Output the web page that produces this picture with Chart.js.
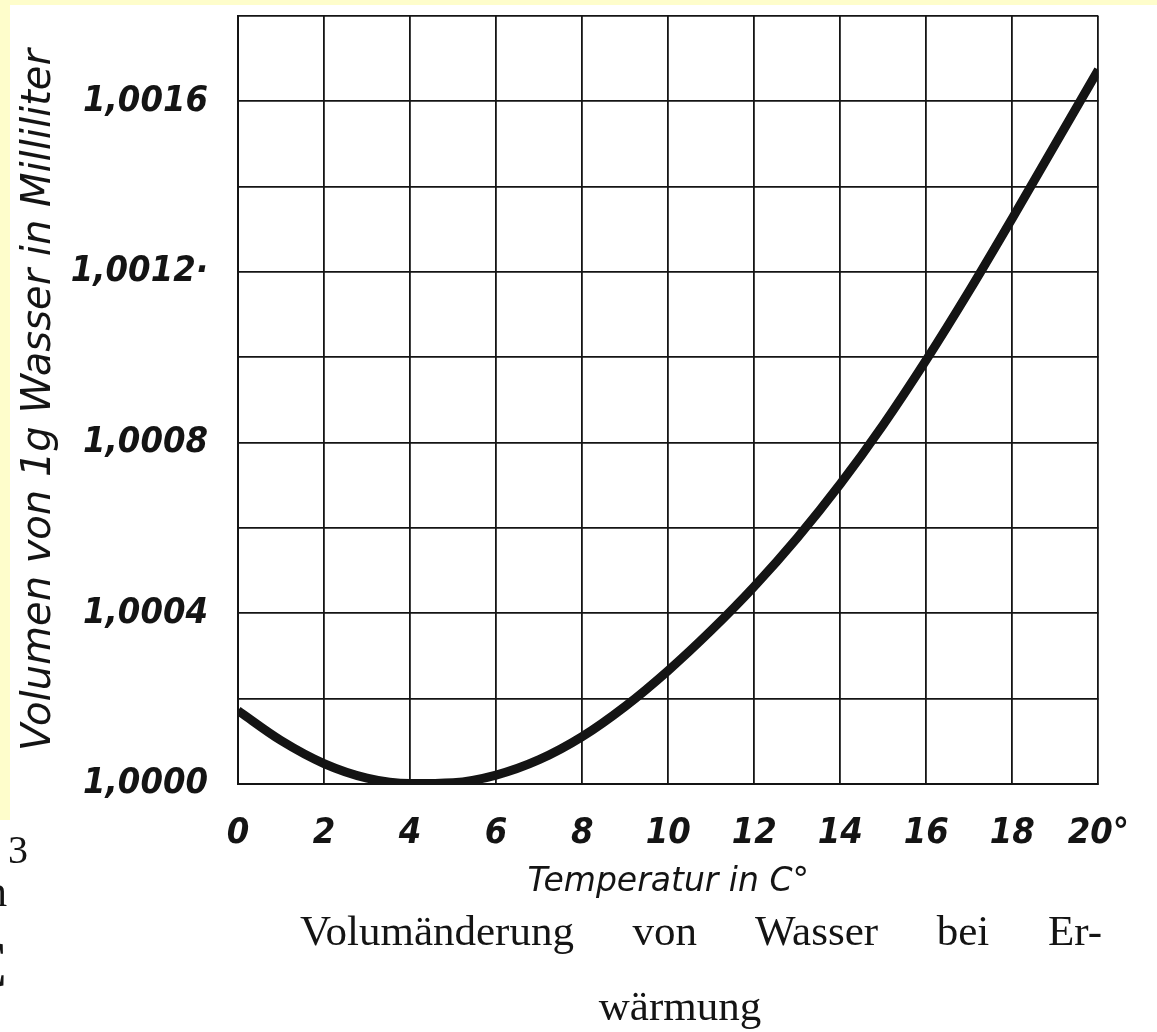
<!DOCTYPE html>
<html lang="de">
<head>
<meta charset="utf-8">
<title>Volumänderung von Wasser</title>
<script src="https://cdn.jsdelivr.net/npm/chart.js@4.4.0/dist/chart.umd.min.js"></script>
<style>
    html, body { margin: 0; padding: 0; background: #fff; }
    #wrap { position: relative; width: 1157px; height: 1032px; overflow: hidden; background: #fff; }
    .band { position: absolute; background: #fefdcb; }
    #chart { position: absolute; left: 0; top: 0; }
    .serif { position: absolute; font-family: 'Liberation Serif', 'DejaVu Serif', serif; color: #141414; line-height: 1; white-space: nowrap; }
</style>
</head>
<body>
<div id="wrap">
    <div class="band" style="left:0;top:0;width:1157px;height:5px;"></div>
    <div class="band" style="left:0;top:0;width:10px;height:820px;"></div>
    <canvas id="chart" width="1157" height="1032"></canvas>

    <!-- Bildunterschrift -->
    <div class="serif" style="left:300px;top:909px;width:802px;font-size:43px;text-align:justify;text-align-last:justify;">Volumänderung von Wasser bei Er-</div>
    <div class="serif" style="left:560px;top:984px;width:240px;font-size:43px;text-align:center;">wärmung</div>

    <!-- Reste der Nachbarseite -->
    <div class="serif" style="left:8px;top:830px;font-size:40px;">3</div>
    <div class="serif" style="left:-27px;top:870px;font-size:44px;">m</div>
    <div class="serif" style="left:-38px;top:930px;font-size:68px;">C</div>
</div>

<script>
// Daten
const temperatures = [0, 1, 2, 3, 4, 5, 6, 7, 8, 9, 10, 11, 12, 13, 14, 15, 16, 17, 18, 19, 20];
const volumes = [1.000172, 1.000102, 1.000048, 1.000014, 1.000001, 1.000003, 1.000021, 1.000057,
                 1.000111, 1.000182, 1.000266, 1.000360, 1.000463, 1.000577, 1.000703, 1.000842,
                 1.000994, 1.001156, 1.001326, 1.001500, 1.001674];
const xTickLabels = ['0', '2', '4', '6', '8', '10', '12', '14', '16', '18', '20°'];
const yTickLabels = ['1,0000', '1,0004', '1,0008', '1,0012·', '1,0016'];

const ink = '#141414';
const tickFont = {
    family: "'Liberation Sans Narrow', 'DejaVu Sans Condensed', 'DejaVu Sans', sans-serif",
    size: 36, style: 'italic', weight: 'bold'
};
const titleFont = { family: "'DejaVu Sans', sans-serif", style: 'italic' };

const points = temperatures.map((t, i) => ({ x: t, y: volumes[i] }));

new Chart(document.getElementById('chart'), {
    type: 'line',
    data: {
        datasets: [{
            data: points,
            borderColor: ink,
            borderWidth: 9,
            pointRadius: 0,
            cubicInterpolationMode: 'monotone',
            fill: false
        }]
    },
    options: {
        responsive: false,
        animation: false,
        layout: { padding: { left: 0, top: 16, right: 58, bottom: 0 } },
        plugins: { legend: { display: false }, tooltip: { enabled: false } },
        scales: {
            x: {
                type: 'linear',
                min: 0,
                max: 20,
                grid: { color: ink, lineWidth: 1.8, drawTicks: false },
                border: { color: ink, width: 2 },
                ticks: {
                    stepSize: 2,
                    autoSkip: false,
                    maxRotation: 0,
                    padding: 28,
                    color: ink,
                    font: tickFont,
                    callback: function(value) {
                        return xTickLabels[Math.round(value / 2)];
                    }
                },
                title: {
                    display: true,
                    text: 'Temperatur in C°',
                    color: ink,
                    font: Object.assign({ size: 33 }, titleFont),
                    padding: { top: 0, bottom: 130 }
                },
                afterFit: function(scale) {
                    scale.height = 248;
                }
            },
            y: {
                min: 1.0,
                max: 1.0018,
                grid: { color: ink, lineWidth: 1.8, drawTicks: false },
                border: { color: ink, width: 2 },
                ticks: {
                    stepSize: 0.0002,
                    autoSkip: false,
                    padding: 30,
                    color: ink,
                    font: tickFont,
                    callback: function(value) {
                        const k = Math.round((value - 1) * 10000);
                        return k % 4 === 0 ? yTickLabels[k / 4] : '';
                    }
                },
                title: {
                    display: true,
                    text: 'Volumen von 1g Wasser in Milliliter',
                    color: ink,
                    font: Object.assign({ size: 40 }, titleFont),
                    padding: { top: 16, bottom: 0 }
                },
                afterFit: function(scale) {
                    scale.width = 238;
                    scale.paddingTop = 0;
                    scale.paddingBottom = 0;
                }
            }
        }
    }
});
</script>
</body>
</html>
